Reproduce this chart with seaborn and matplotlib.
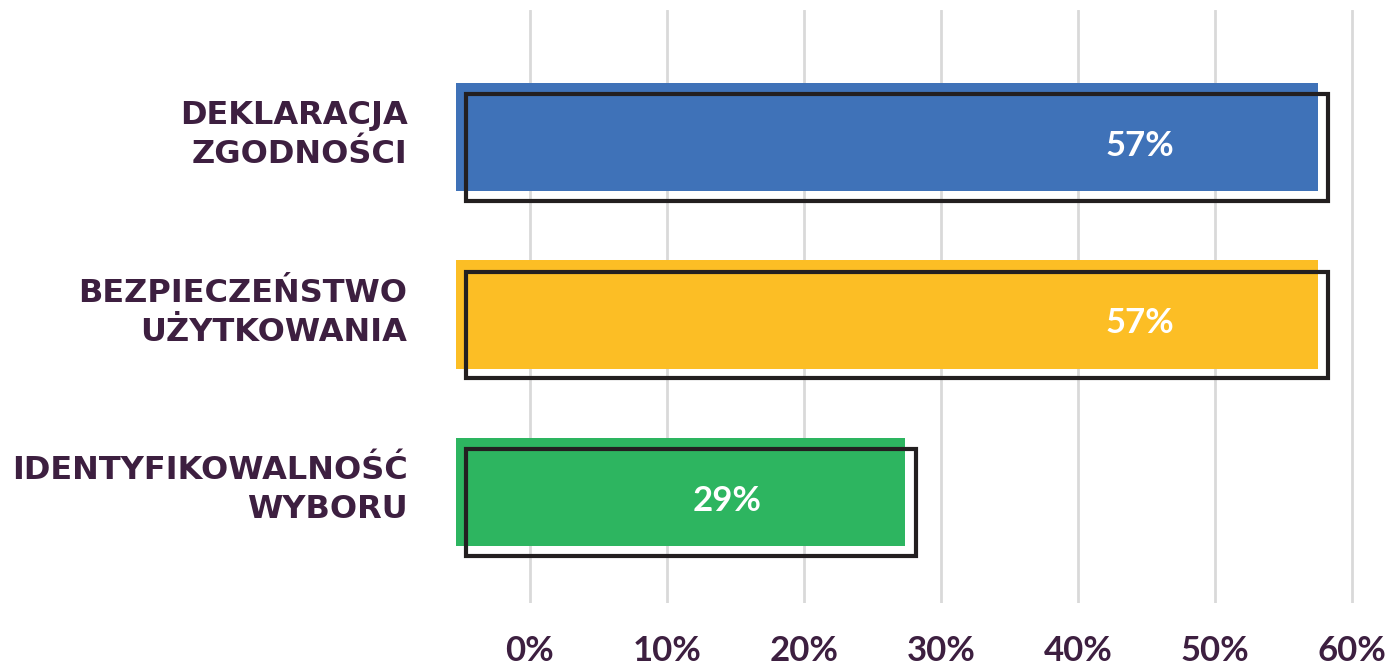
"""
Poziome słupki z przesuniętą ramką (styl infografiki).
"""
import numpy as np
import pandas as pd
import matplotlib.pyplot as plt
import seaborn as sns
from matplotlib.patches import Rectangle

# Dane
categories = ['DEKLARACJA\nZGODNOŚCI', 'BEZPIECZEŃSTWO\nUŻYTKOWANIA', 'IDENTYFIKOWALNOŚĆ\nWYBORU']
values = [57, 57, 29]
value_labels = ['57%', '57%', '29%']
tick_values = [0, 10, 20, 30, 40, 50, 60]
tick_labels = ['0%', '10%', '20%', '30%', '40%', '50%', '60%']

colors = ['#3f72b8', '#fcbe25', '#2db560']
TEXT = '#3d1f40'

df = pd.DataFrame({'kategoria': categories, 'wartosc': values})

sns.set_theme(style='white')
plt.rcParams['font.family'] = ['DejaVu Sans']

fig = plt.figure(figsize=(13.98, 6.65), dpi=100)
ax = fig.add_axes([440 / 1398, 62 / 665, 930 / 1398, 593 / 665])

sns.barplot(data=df, x='wartosc', y='kategoria', hue='kategoria',
            palette=colors, saturation=1, orient='h', width=0.61,
            dodge=False, legend=False, ax=ax, zorder=2)

# przesunięcie słupków jak w grafice (start przed osią 0)
start = -5.4
for patch in ax.patches:
    w = patch.get_width()
    patch.set_x(start)
    patch.set_width(1.075 * w + 1.62)
    patch.set_edgecolor('none')

# ramki przesunięte w prawo i w dół + etykiety wartości
for patch, lab in zip(list(ax.patches), value_labels):
    x, y = patch.get_x(), patch.get_y()
    w, h = patch.get_width(), patch.get_height()
    ax.add_patch(Rectangle((x + 0.75, y + 0.065), w, h - 0.01, fill=False,
                           edgecolor='#231f20', linewidth=3, zorder=3))
    ax.text(x + w - 13, y + h / 2 + 0.05, lab, color='white', fontsize=25,
            fontweight='bold', family='Lato', ha='center', va='center',
            zorder=4)

ax.set_xlim((440 - 530) / 13.7, (1370 - 530) / 13.7)
ax.set_ylim(2.625, -0.715)
ax.set_xticks(tick_values)
ax.set_xticklabels(tick_labels, fontsize=25, fontweight='bold',
                   color=TEXT, family='Lato')
ax.tick_params(axis='x', length=0, pad=23)
ax.xaxis.grid(True, color='#d9d9d9', linewidth=2, zorder=0)
ax.set_axisbelow(True)

ax.set_yticks([])
ax.set_xlabel('')
ax.set_ylabel('')
sns.despine(ax=ax, left=True, bottom=True)

for i, cat in enumerate(categories):
    ax.text(-8.95, i - 0.01, cat, ha='right', va='center', fontsize=23,
            fontweight='bold', color=TEXT, linespacing=1.35)

fig.savefig('out.png', dpi=100, facecolor='white')
